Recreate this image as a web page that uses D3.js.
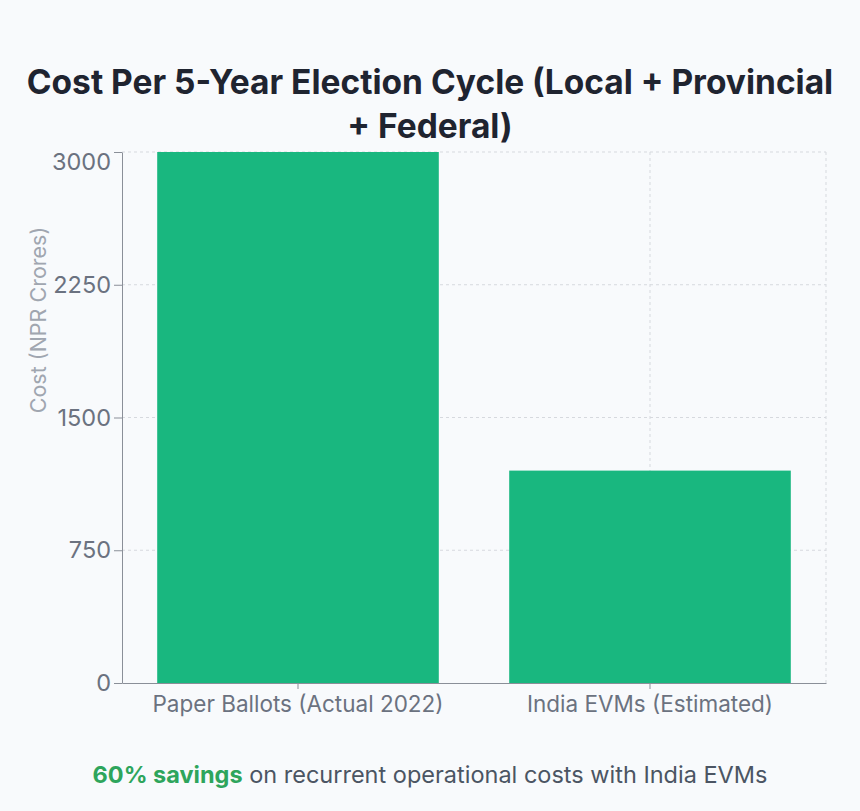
<!DOCTYPE html>
<html>
<head>
<meta charset="utf-8">
<script src="https://cdn.jsdelivr.net/npm/d3@7"></script>
<style>
  body { margin: 0; background: #f8fafc; }
  svg { display: block; font-family: Inter, "Noto Sans", sans-serif; }
</style>
</head>
<body>
<svg id="chart" width="860" height="811"></svg>
<script>
// chart data
var categories = ["Paper Ballots (Actual 2022)", "India EVMs (Estimated)"];
var costs = [3000, 1200];
var yTicks = [0, 750, 1500, 2250, 3000];
var titleLines = ["Cost Per 5-Year Election Cycle (Local + Provincial", "+ Federal)"];

var margin = {left: 122, right: 34, top: 152, bottom: 128};
var green = "#19b77f";
var W = 860, H = 811;
var width = W - margin.left - margin.right,
    height = H - margin.top - margin.bottom;

var svg = d3.select("#chart");

svg.append("rect").attr("width", W).attr("height", H).attr("fill", "#f8fafc");

//Title
svg.append("text")
  .attr("text-anchor", "middle")
  .attr("font-size", 33.5)
  .attr("font-weight", 700)
  .attr("fill", "#1f2430")
  .selectAll("tspan")
  .data(titleLines).enter().append("tspan")
    .attr("x", W / 2)
    .attr("y", function(d, i){ return 94 + i * 44; })
    .text(function(d){ return d; });

var x = d3.scaleBand().domain(categories).range([0, width]).paddingInner(0.2).paddingOuter(0.1),
    y = d3.scaleLinear().domain([0, 3000]).range([height, 0]);

var g = svg.append("g").attr("transform", "translate(" + margin.left + "," + margin.top + ")");

//Grid lines
g.selectAll(".hgrid").data(yTicks.slice(1)).enter().append("line")
  .attr("x1", 0).attr("x2", width)
  .attr("y1", function(d){ return y(d); }).attr("y2", function(d){ return y(d); })
  .style("stroke", "#d6d9de").style("stroke-dasharray", "3,3");
g.selectAll(".vgrid").data(categories).enter().append("line")
  .attr("x1", function(d){ return x(d) + x.bandwidth() / 2; })
  .attr("x2", function(d){ return x(d) + x.bandwidth() / 2; })
  .attr("y1", 0).attr("y2", height)
  .style("stroke", "#d6d9de").style("stroke-dasharray", "3,3");
g.append("line")
  .attr("x1", width).attr("x2", width).attr("y1", 0).attr("y2", height)
  .style("stroke", "#d6d9de").style("stroke-dasharray", "3,3");

//Bars
g.selectAll(".bar").data(costs).enter().append("rect")
  .attr("x", function(d, i){ return x(categories[i]); })
  .attr("y", function(d){ return y(d); })
  .attr("width", x.bandwidth())
  .attr("height", function(d){ return height - y(d); })
  .attr("fill", green);

//Axes
var xAxis = g.append("g")
  .attr("transform", "translate(0," + height + ")")
  .call(d3.axisBottom(x).tickSize(6).tickSizeOuter(0).tickPadding(7));
var yAxis = g.append("g")
  .call(d3.axisLeft(y).tickValues(yTicks).tickFormat(d3.format("d")).tickSize(8).tickSizeOuter(0).tickPadding(3));

[xAxis, yAxis].forEach(function(a){
  a.select(".domain").style("stroke", "#8a8f98");
  a.selectAll(".tick line").style("stroke", "#8a8f98");
  a.selectAll("text")
    .style("font-family", "Inter, 'Noto Sans', sans-serif")
    .style("fill", "#6b7280");
});
xAxis.selectAll("text").style("font-size", "22.5px");
yAxis.selectAll("text").style("font-size", "23.5px");
// top label sits just inside the plot, as in the original
yAxis.selectAll(".tick text").filter(function(d){ return d === 3000; }).attr("dy", "0.75em");

//Label for Y axis
svg.append("text")
  .attr("transform", "translate(46,320) rotate(-90)")
  .attr("text-anchor", "middle")
  .attr("font-size", 21.5)
  .attr("fill", "#a0a6b0")
  .text("Cost (NPR Crores)");

//Footer note
var note = svg.append("text")
  .attr("x", W / 2).attr("y", 783)
  .attr("text-anchor", "middle")
  .attr("font-size", 23.5)
  .attr("fill", "#4b5563");
note.append("tspan").attr("font-weight", 700).attr("fill", "#2ea55c").text("60% savings");
note.append("tspan").text(" on recurrent operational costs with India EVMs");
</script>
</body>
</html>
